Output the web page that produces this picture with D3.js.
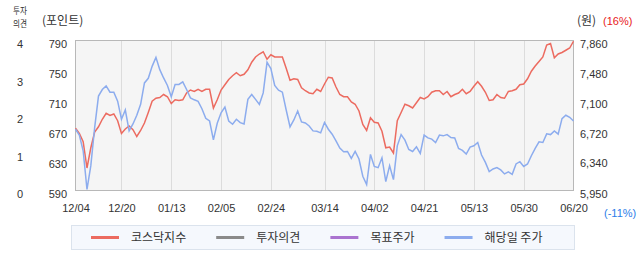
<!DOCTYPE html>
<html>
<head>
<meta charset="utf-8">
<script src="https://cdn.jsdelivr.net/npm/d3@7"></script>
<style>
body { margin: 0; background: #fff; }
svg text { font-family: "Liberation Sans", Arial, sans-serif; font-size: 11px; fill: #333; }
svg text.kr { font-family: "Noto Sans CJK KR", sans-serif; font-size: 12px; }
</style>
</head>
<body>
<svg id="chart" width="642" height="268"></svg>
<script>

// KOSDAQ index (left axis, points)
var kosdaq = [673,666,655,620,647,668,675,685,693,690,
    692,683,666,672,676,671,662,670,680,694,
    709,713,714,718,715,706,711,710,711,720,
    724,722,725,722,725,725,700,711,724,731,
    738,743,747,743,745,751,761,768,772,775,
    765,771,768,768,768,753,737,739,738,727,
    723,720,719,725,722,732,741,740,728,718,
    715,715,708,705,696,678,670,687,681,680,
    669,647,648,640,683,694,705,703,700,707,
    714,712,715,721,723,723,718,722,715,718,
    720,725,719,722,729,735,729,721,710,711,
    718,714,713,722,723,725,731,732,739,749,
    756,762,768,784,786,767,772,774,777,780,789];

// stock price of the day (right axis, won)
var price = [6730,6655,6456,5963,6266,6751,7152,7236,7282,7202,
    7202,7088,6857,6975,6709,6797,6908,7047,7320,7379,
    7531,7645,7489,7383,7287,7143,7300,7300,7333,7236,
    7130,7105,7085,6991,6870,6835,6595,6806,6940,7013,
    6835,6794,6857,6814,6797,7110,7173,7110,7047,7193,
    7582,7502,7287,7228,7202,6975,6760,6848,6962,6823,
    6810,6772,6709,6705,6684,6816,6730,6667,6582,6490,
    6443,6447,6359,6447,6351,6131,6026,6409,6257,6241,
    6367,6064,6266,6089,6519,6662,6591,6472,6447,6507,
    6422,6655,6620,6604,6561,6655,6646,6662,6624,6620,
    6485,6460,6414,6503,6519,6561,6402,6308,6190,6224,
    6241,6212,6161,6187,6156,6288,6317,6257,6288,6393,
    6485,6570,6561,6671,6662,6709,6667,6865,6908,6882,6835];

var dateLabels = ['12/04','12/20','01/13','02/05','02/24','03/14','04/02','04/21','05/13','05/30','06/20'];
var dateIndex = [0,12,25,38,51,65,78,91,104,117,130];
var kosdaqTicks = [590,630,670,710,750,790];
var priceTicks = [5950,6340,6720,7100,7480,7860];
var opinionTicks = [0,1,2,3,4];
var legendNames = ['코스닥지수','투자의견','목표주가','해당일 주가'];
var legendColors = ['#ec6b60','#8a8a8a','#aa73d0','#8cacee'];

var svg = d3.select('#chart');
var plot = {left: 75.5, right: 573.5, top: 40.5, bottom: 190.5};

var x = d3.scaleLinear().domain([0, kosdaq.length - 1]).range([plot.left, plot.right]);
var yLeft = d3.scaleLinear().domain([590, 790]).range([plot.bottom, plot.top]);
var yRight = d3.scaleLinear().domain([5950, 7860]).range([plot.bottom, plot.top]);
var yOpinion = d3.scaleLinear().domain([0, 4]).range([plot.bottom, plot.top]);

// plot background
svg.append('rect')
    .attr('x', plot.left).attr('y', plot.top)
    .attr('width', plot.right - plot.left).attr('height', plot.bottom - plot.top)
    .style('fill', '#f5f5f5');

// vertical grid
svg.selectAll('.grid')
    .data(dateIndex.slice(1, -1))
  .enter().append('line')
    .attr('class', 'grid')
    .attr('x1', function (d) { return Math.round(x(d)) + 0.5; })
    .attr('x2', function (d) { return Math.round(x(d)) + 0.5; })
    .attr('y1', plot.top).attr('y2', plot.bottom)
    .style('stroke', '#dcdcdc')
    .style('shape-rendering', 'crispEdges');

svg.append('rect')
    .attr('x', plot.left).attr('y', plot.top)
    .attr('width', plot.right - plot.left).attr('height', plot.bottom - plot.top)
    .style('fill', 'none')
    .style('stroke', '#b8b8b8')
    .style('shape-rendering', 'crispEdges');

// lines
var kosdaqLine = d3.line()
    .x(function (d, i) { return x(i); })
    .y(function (d) { return yLeft(d); });
var priceLine = d3.line()
    .x(function (d, i) { return x(i); })
    .y(function (d) { return yRight(d); });

svg.append('path')
    .datum(kosdaq)
    .attr('d', kosdaqLine)
    .style('fill', 'none')
    .style('stroke', legendColors[0])
    .style('stroke-width', 1.5);

svg.append('path')
    .datum(price)
    .attr('d', priceLine)
    .style('fill', 'none')
    .style('stroke', legendColors[3])
    .style('stroke-width', 1.5);

// axes
function styleAxis(g) {
    g.select('.domain').remove();
    g.selectAll('text')
        .attr('dy', null)
        .style('font-family', '"Liberation Sans", Arial, sans-serif')
        .style('font-size', '11px')
        .style('fill', '#333');
}

svg.append('g')
    .attr('transform', 'translate(' + (plot.left - 0.5) + ',0)')
    .call(d3.axisLeft(yLeft).tickValues(kosdaqTicks).tickSize(0).tickPadding(8))
    .call(styleAxis)
    .selectAll('text').attr('y', 7);

svg.append('g')
    .attr('transform', 'translate(20,0)')
    .call(d3.axisLeft(yOpinion).tickValues(opinionTicks).tickSize(0).tickPadding(0)
        .tickFormat(d3.format('d')))
    .call(styleAxis)
    .selectAll('text').attr('x', 0).attr('y', 7).style('text-anchor', 'middle');

svg.append('g')
    .attr('transform', 'translate(' + (plot.right - 0.5) + ',0)')
    .call(d3.axisRight(yRight).tickValues(priceTicks).tickSize(0).tickPadding(7).tickFormat(d3.format(',')))
    .call(styleAxis)
    .selectAll('text').attr('y', 7);

svg.append('g')
    .attr('transform', 'translate(0,' + (plot.bottom + 0.5) + ')')
    .call(d3.axisBottom(x).tickValues(dateIndex).tickSize(0)
        .tickFormat(function (d, i) { return dateLabels[i]; }))
    .call(styleAxis)
    .selectAll('text').attr('y', 21);

// axis titles
svg.append('text').attr('class', 'kr')
    .attr('x', 13).attr('y', 13.5)
    .attr('textLength', 14).attr('lengthAdjust', 'spacingAndGlyphs')
    .style('font-size', '9px')
    .text('투자');
svg.append('text').attr('class', 'kr')
    .attr('x', 13).attr('y', 26.5)
    .attr('textLength', 14).attr('lengthAdjust', 'spacingAndGlyphs')
    .style('font-size', '9px')
    .text('의견');
svg.append('text').attr('class', 'kr')
    .attr('x', 42).attr('y', 24.5)
    .text('(포인트)');
svg.append('text').attr('class', 'kr')
    .attr('x', 577).attr('y', 25)
    .text('(원)');
svg.append('text')
    .attr('x', 603).attr('y', 25)
    .style('fill', '#e8201a')
    .text('(16%)');
svg.append('text')
    .attr('x', 604).attr('y', 216.5)
    .style('fill', '#2b7de9')
    .text('(-11%)');

// legend
var legend = svg.append('g').attr('class', 'legend');
legend.append('rect')
    .attr('x', 71.5).attr('y', 225.5)
    .attr('width', 503).attr('height', 24)
    .style('fill', '#f5f8fd')
    .style('stroke', '#dbe3ed');

var lx = 91;
legendNames.forEach(function (name, i) {
    legend.append('line')
        .attr('x1', lx).attr('x2', lx + 28)
        .attr('y1', 237.5).attr('y2', 237.5)
        .style('stroke', legendColors[i])
        .style('stroke-width', 3);
    var t = legend.append('text').attr('class', 'kr')
        .attr('x', lx + 40).attr('y', 241.8)
        .text(name);
    lx = lx + 40 + t.node().getComputedTextLength() + 30;
});

</script>
</body>
</html>
